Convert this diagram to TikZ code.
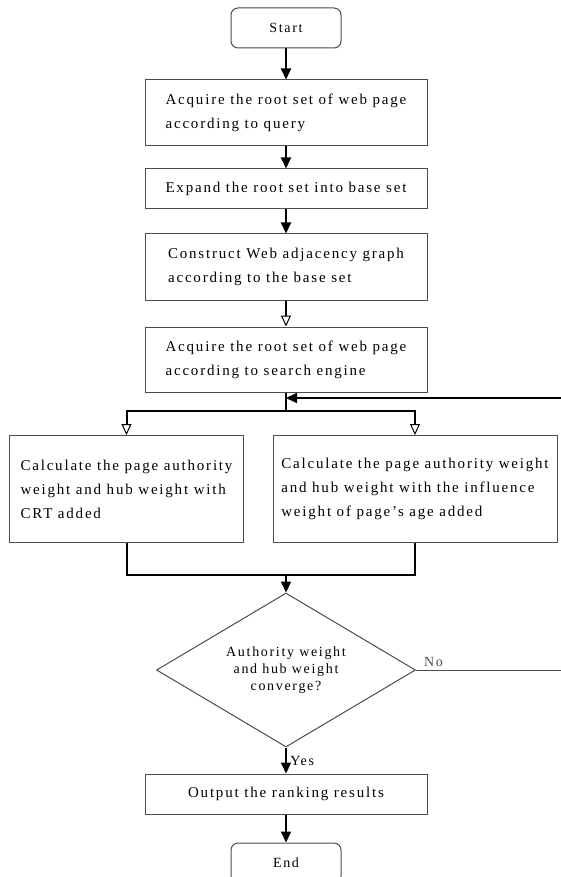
\documentclass[tikz,border=0pt]{standalone}
\usepackage{fontspec}
\setmainfont{Liberation Serif}[LetterSpace=12]
\usetikzlibrary{shapes.geometric,arrows.meta,positioning}
\tikzstyle{block} = [rectangle, draw=black!70, line width=1pt,
    minimum width=282pt, align=left, font=\fontsize{15}{24}\selectfont]
\tikzstyle{term} = [rectangle, draw=black!70, line width=1pt, rounded corners=7pt,
    minimum width=110pt, minimum height=40pt, font=\fontsize{14}{20}\selectfont]
\tikzstyle{decision} = [diamond, draw=black!70, line width=1pt, aspect=1.68,
    minimum width=259pt, minimum height=154pt, inner sep=0pt, align=center,
    font=\fontsize{14}{17}\selectfont]
\tikzstyle{line} = [draw, line width=2pt, -{Triangle[length=11pt,width=10pt]}]
\tikzstyle{oline} = [draw, line width=2pt, -{Triangle[open,length=11pt,width=10pt,line width=1pt]}]
\tikzstyle{plain} = [draw, line width=2pt]

\begin{document}
\begin{tikzpicture}[x=1pt, y=-1pt]
    \useasboundingbox (0,0) rectangle (560,877);
    % Place nodes
    \node [term] (start) at (286,28) {Start};
    \node [block, minimum height=66pt, below=31pt of start] (acquire) {Acquire the root set of web page\\according to query};
    \node [block, minimum height=40pt, below=22pt of acquire, align=center] (expand) {Expand the root set into base set};
    \node [block, minimum height=66pt, below=24pt of expand] (graph) {Construct Web adjacency graph\\according to the base set};
    \node [block, minimum height=65pt, below=26pt of graph] (engine) {Acquire the root set of web page\\according to search engine};
    \node [block, minimum width=234pt, minimum height=107pt, anchor=north] (crt) at (126.5,435)
        {Calculate the page authority\\weight and hub weight with\\CRT added};
    \node [block, minimum width=284pt, minimum height=107pt, anchor=north] (age) at (415,435)
        {Calculate the page authority weight\\and hub weight with the influence\\weight of page's age added};
    \node [decision] (conv) at (286,670) {Authority weight\\and hub weight\\converge?};
    \node [block, minimum height=40pt, below=26pt of conv, align=center] (output) {Output the ranking results};
    \node [term, below=28pt of output] (end) {End};
    \coordinate (loop) at (286,398);
    \coordinate (split) at (286,411);
    \coordinate (join) at (286,575);
    \coordinate (back) at (562,670);
    % Draw edges
    \path [line] (start) -- (acquire);
    \path [line] (acquire) -- (expand);
    \path [line] (expand) -- (graph);
    \path [oline] (graph) -- (engine);
    \path [plain] (engine) -- (split);
    \path [oline] (split) -| (crt.north);
    \path [oline] (split) -| (age.north);
    \path [plain] (crt.south) |- (join) -| (age.south);
    \path [line] (join) -- (conv.north);
    \path [line] (conv.south) -- node [right, font=\fontsize{14}{17}\selectfont] {Yes} (output.north);
    \path [line] (output) -- (end);
    \draw [black!70, line width=1pt] (conv.east) -- node [above, pos=0.12, font=\fontsize{14}{17}\selectfont] {No} (back);
    \path [line] (back) |- (loop);
\end{tikzpicture}
\end{document}
